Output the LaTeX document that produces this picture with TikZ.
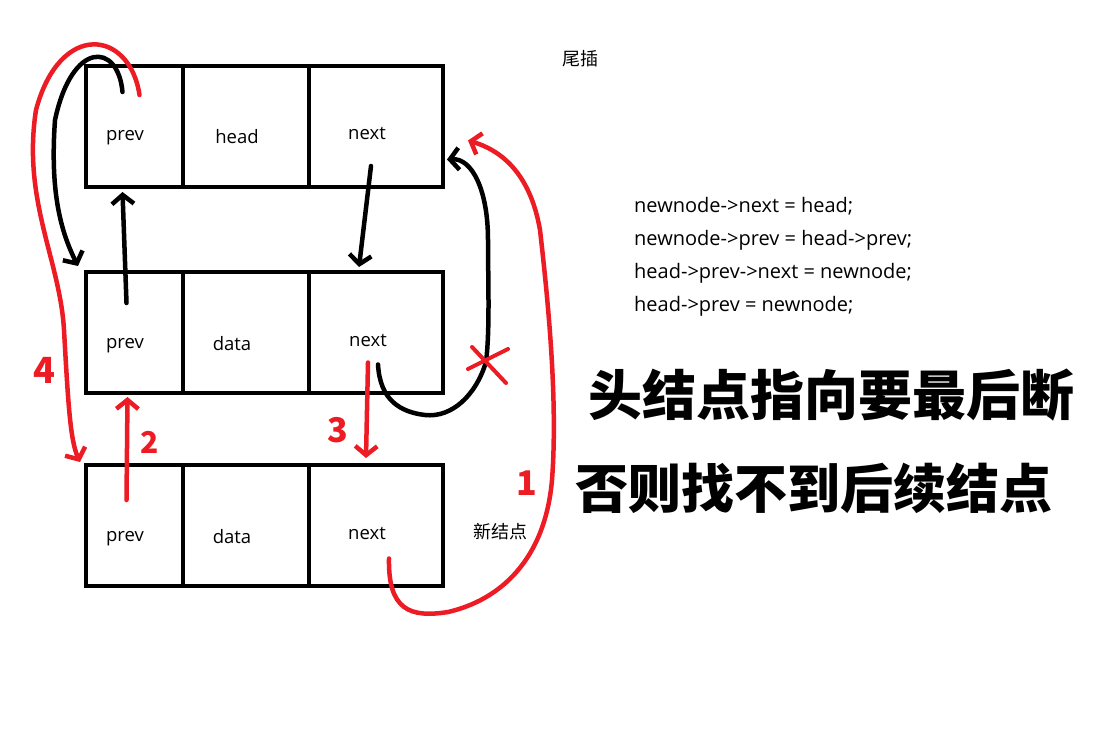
\documentclass[tikz,border=0pt]{standalone}
\usepackage{fontspec}
\setmainfont{Open Sans}
\newfontfamily\cjk{Noto Sans CJK SC}
\definecolor{pRed}{HTML}{ED1C24}
\usetikzlibrary{arrows.meta, calc}

\begin{document}
\begin{tikzpicture}[x=1pt, y=-1pt,
  cell/.style={draw=black, line width=4pt, minimum height=121pt, inner sep=0pt,
               anchor=north west},
  txt/.style={font=\fontsize{18.5}{22}\selectfont, inner sep=0pt, anchor=base},
  code/.style={font=\fontsize{20}{24}\selectfont, inner sep=0pt, anchor=base west},
  hand/.style={font=\cjk\bfseries\fontsize{54}{60}\selectfont, inner sep=0pt,
               anchor=base west},
  num/.style={font=\cjk\bfseries\fontsize{34}{40}\selectfont, text=pRed, inner sep=0pt},
  blk/.style={draw=black, line width=4.5pt, line cap=round, line join=round,
              -{Straight Barb[length=9pt, width=22pt]}},
  rdl/.style={draw=pRed, line width=4.5pt, line cap=round, line join=round,
              -{Straight Barb[length=9pt, width=22pt]}},
  rdx/.style={draw=pRed, line width=4pt, line cap=round}]
  \fill[white] (0,0) rectangle (1116,740);
  \useasboundingbox (0,0) rectangle (1116,740);

  % head node
  \node[cell, minimum width=97pt]  (headprev) at (84,64)  {};
  \node[cell, minimum width=126pt] (headdata) at (181,64) {};
  \node[cell, minimum width=134pt] (headnext) at (307,64) {};
  % last node
  \node[cell, minimum width=97pt]  (tailprev) at (84,270)  {};
  \node[cell, minimum width=126pt] (taildata) at (181,270) {};
  \node[cell, minimum width=134pt] (tailnext) at (307,270) {};
  % new node
  \node[cell, minimum width=97pt]  (newprev) at (84,463)  {};
  \node[cell, minimum width=126pt] (newdata) at (181,463) {};
  \node[cell, minimum width=134pt] (newnext) at (307,463) {};

  \node[txt] (t1) at (125,140) {prev};
  \node[txt] (t2) at (237,143) {head};
  \node[txt] (t3) at (367,139) {next};
  \node[txt] (t4) at (125,348) {prev};
  \node[txt] (t5) at (232,350) {data};
  \node[txt] (t6) at (368,346) {next};
  \node[txt] (t7) at (125,541) {prev};
  \node[txt] (t8) at (232,543) {data};
  \node[txt] (t9) at (367,539) {next};
  \node[txt, font=\cjk\fontsize{18}{22}\selectfont] (newlbl) at (500,538) {新结点};
  \node[txt, font=\cjk\fontsize{18}{22}\selectfont] (title) at (580,65) {尾插};

  \node[code] (c1) at (634,212) {newnode->next = head;};
  \node[code] (c2) at (634,245) {newnode->prev = head->prev;};
  \node[code] (c3) at (634,278) {head->prev->next = newnode;};
  \node[code] (c4) at (634,311) {head->prev = newnode;};

  \node[hand] (note1) at (588,415) {头结点指向要最后断};
  \node[hand, font=\cjk\bfseries\fontsize{53}{60}\selectfont] (note2) at (575,508)
     {否则找不到后续结点};

  % old links
  \draw[blk] ($(tailprev.north)+(-8,33)$) -- ($(headprev.south)+(-12,3)$);
  \draw[blk] ($(headnext.south)+(-5,-23)$) -- ($(tailnext.north)+(-17,-3)$);
  \draw[blk] ($(headprev.north)+(-12,28)$) .. controls (118,42) and (72,40)
     .. (55,120) .. controls (50,190) and (60,230) .. ($(tailprev.north west)+(-6,-4)$);
  \draw[blk] ($(tailnext.center)+(2,32)$) .. controls (380,400) and (400,412)
     .. (425,415) .. controls (452,418) and (476,395) .. (486,362)
     .. controls (490,330) and (488,280) .. (488,240)
     .. controls (488,190) and (472,158) .. ($(headnext.east)+(2,33)$);
  \coordinate (cut) at (486,365);
  \draw[rdx] ($(cut)+(-14,-18)$) -- ($(cut)+(20,18)$);
  \draw[rdx] ($(cut)+(-18,4)$) -- ($(cut)+(22,-16)$);

  % new links, in order
  \draw[rdl] ($(newnext.center)+(13,33)$) .. controls (388,610) and (410,618)
     .. (448,612) .. controls (500,600) and (545,560) .. (552,480)
     .. controls (558,400) and (548,300) .. (540,230)
     .. controls (530,172) and (500,150) .. ($(headnext.east)+(23,14)$);
  \draw[rdl] ($(newprev.north)+(-8,37)$) -- ($(tailprev.south)+(-7,2)$);
  \draw[rdl] ($(tailnext.center)+(-8,30)$) -- ($(newnext.north)+(-10,-5)$);
  \draw[rdl] ($(headprev.north)+(5,31)$) .. controls (130,30) and (60,20)
     .. (36,110) .. controls (22,200) and (60,260) .. (64,330)
     .. controls (68,400) and (70,440) .. ($(newprev.north west)+(-4,-1)$);

  \node[num] (n1) at (527,483) {\itshape 1};
  \node[num, font=\cjk\bfseries\fontsize{30}{36}\selectfont] (n2) at (150,442) {2};
  \node[num] (n3) at (338,430) {3};
  \node[num, font=\cjk\bfseries\fontsize{36}{40}\selectfont] (n4) at (44,370) {4};
\end{tikzpicture}
\end{document}
